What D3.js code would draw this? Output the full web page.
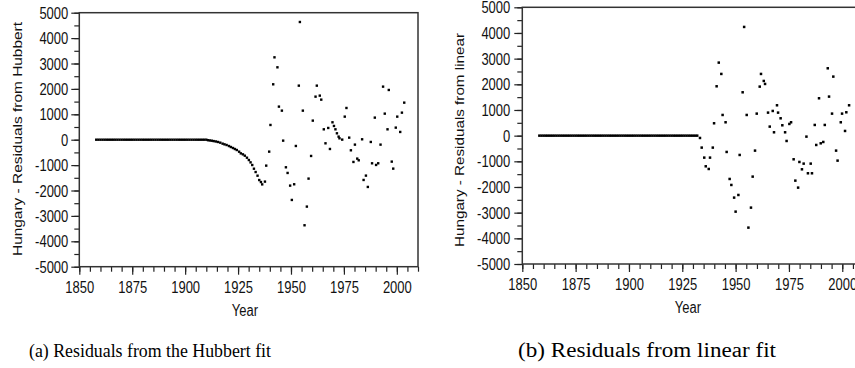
<!DOCTYPE html>
<html>
<head>
<meta charset="utf-8">
<script src="https://cdn.jsdelivr.net/npm/d3@7"></script>
<style>
  html, body { margin: 0; padding: 0; background: #fff; }
  svg { display: block; }
</style>
</head>
<body>
<div id="chart"></div>
<script>
// ---------- data ----------
// years where the residual sits on zero (drawn as a dense row of dots)
const flatYearsHubbert = [1858,1859,1860,1861,1862,1863,1864,1865,1866,1867,1868,1869,1870,1871,1872,1873,1874,1875,
  1876,1877,1878,1879,1880,1881,1882,1883,1884,1885,1886,1887,1888,1889,1890,1891,1892,1893,1894,1895,1896,1897,
  1898,1899,1900,1901,1902,1903,1904,1905,1906,1907,1908,1909,1910];
const flatYearsLinear = [1858,1859,1860,1861,1862,1863,1864,1865,1866,1867,1868,1869,1870,1871,1872,1873,1874,1875,
  1876,1877,1878,1879,1880,1881,1882,1883,1884,1885,1886,1887,1888,1889,1890,1891,1892,1893,1894,1895,1896,1897,
  1898,1899,1900,1901,1902,1903,1904,1905,1906,1907,1908,1909,1910,1911,1912,1913,1914,1915,1916,1917,1918,1919,
  1920,1921,1922,1923,1924,1925,1926,1927,1928,1929,1930,1931,1932];

// [year, residual]
const curveHubbert = [
  [1910.8,-20],[1911.7,-30],[1912.6,-40],[1913.5,-55],[1914.5,-70],[1915.5,-90],
  [1916.6,-117],[1917.7,-156],[1918.6,-183],[1919.6,-209],[1920.7,-249],[1921.6,-288],[1922.6,-327],
  [1923.5,-367],[1924.4,-406],[1925.5,-472],[1926.3,-538],[1927.3,-577],[1928.2,-630],[1929.2,-709],
  [1930.1,-800],[1930.9,-892],[1931.7,-997],[1932.5,-1142],[1933.3,-1273],[1934.2,-1417],[1935.0,-1588],
  [1935.8,-1667],[1936.4,-1759]
];
const scatterHubbert = [
  [1937.7,-1650],[1938.3,-1021],[1939.7,-470],[1940.3,580],[1941.6,2181],[1942.2,3243],[1943.6,2850],
  [1944.3,1302],[1945.7,1144],[1946.3,-37],[1947.6,-1086],[1948.4,-1309],[1949.6,-1808],[1950.4,-2372],
  [1951.5,-1755],[1952.3,-247],[1953.7,2128],[1954.2,4634],[1955.6,1144],[1956.4,-3369],[1957.5,-2634],
  [1958.3,-1532],[1959.5,-640],[1960.3,751],[1961.6,1695],[1962.2,2128],[1963.6,1735],[1964.3,1577],
  [1965.5,409],[1966.3,-142],[1967.6,462],[1968.4,-365],[1969.6,685],[1970.3,541],[1971.0,409],
  [1971.7,252],[1972.5,121],[1972.9,55],[1974.2,3],[1975.4,908],[1976.2,1249],[1977.5,81],[1978.3,-417],
  [1979.5,-876],[1980.2,-194],[1981.3,-745],[1982.0,-811],[1983.6,16],[1984.3,-1585],[1985.4,-1414],
  [1986.3,-1860],[1987.7,-89],[1988.3,-929],[1989.6,869],[1990.2,-994],[1991.2,-929],[1992.3,-194],
  [1993.5,2089],[1994.3,1026],[1995.6,409],[1996.2,1958],[1997.6,-863],[1998.3,-1139],[1999.5,475],
  [2000.2,908],[2001.6,305],[2002.4,1065],[2003.5,1459]
];
const scatterLinear = [
  [1933.3,-90],[1934.1,-466],[1935.3,-856],[1936.0,-1194],[1937.4,-1298],[1938.0,-856],[1939.3,-466],
  [1939.9,482],[1941.1,1923],[1942.1,2845],[1943.3,2404],[1943.9,806],[1945.3,521],[1945.8,-635],
  [1947.2,-1687],[1948.0,-1921],[1949.3,-2414],[1950.0,-2960],[1951.3,-2311],[1951.9,-752],[1953.3,1689],
  [1954.0,4235],[1955.2,806],[1956.0,-3583],[1957.2,-2804],[1958.0,-1596],[1959.1,-583],[1959.9,858],
  [1961.3,1910],[1961.9,2404],[1963.2,2131],[1963.8,2014],[1965.2,897],[1966.0,352],[1967.4,962],
  [1968.0,131],[1969.4,1183],[1969.9,897],[1971.1,676],[1971.9,404],[1973.2,131],[1973.9,-207],
  [1975.2,456],[1976.0,521],[1977.2,-921],[1978.0,-1752],[1979.3,-2025],[1979.9,-1025],[1981.1,-1311],
  [1981.9,-1090],[1983.2,-38],[1983.9,-1466],[1985.2,-1090],[1985.8,-1466],[1987.1,417],[1987.8,-363],
  [1989.1,1456],[1989.9,-298],[1991.1,-246],[1991.8,417],[1993.2,2624],[1993.8,1521],[1995.2,858],
  [1995.8,2300],[1997.1,-583],[1997.8,-973],[1999.3,521],[1999.9,858],[2001.3,183],[2001.9,910],
  [2003.2,1183]
];

const xTicks = [1850, 1875, 1900, 1925, 1950, 1975, 2000];
const yTicks = [-5000, -4000, -3000, -2000, -1000, 0, 1000, 2000, 3000, 4000, 5000];
const xTitle = "Year";
const yTitles = ["Hungary - Residuals from Hubbert", "Hungary - Residuals from linear"];
const captions = ["(a) Residuals from the Hubbert fit", "(b) Residuals from linear fit"];

// ---------- drawing ----------
const W = 855, H = 368;
const SANS = '"Liberation Sans", Arial, sans-serif';
const SERIF = '"Liberation Serif", "Times New Roman", serif';
const plain = d => String(d);   // keep "-" hyphen as in the original

const svg = d3.select("#chart").append("svg")
  .attr("width", W).attr("height", H);

function drawPanel(p){
  const x = d3.scaleLinear().domain([1850, 2010]).range([p.left, p.right]);
  const y = d3.scaleLinear().domain([-5000, 5000]).range([p.bottom, p.top]);
  const g = svg.append("g");

  // minor ticks (every 5 years / 500 units)
  g.append("g")
    .attr("transform", `translate(0,${p.bottom})`)
    .call(d3.axisBottom(x).tickValues(d3.range(1850, 2011, 5)).tickSize(5).tickFormat(""))
    .call(a => a.select(".domain").remove());
  g.append("g")
    .attr("transform", `translate(${p.left},0)`)
    .call(d3.axisLeft(y).tickValues(d3.range(-5000, 5001, 500)).tickSize(5).tickFormat(""))
    .call(a => a.select(".domain").remove());

  // major ticks + labels (text a bit stretched vertically like the original)
  const xa = g.append("g")
    .attr("transform", `translate(0,${p.bottom})`)
    .call(d3.axisBottom(x).tickValues(xTicks).tickSize(8).tickFormat(plain));
  xa.select(".domain").remove();
  xa.selectAll("text")
    .attr("y", null).attr("dy", null)
    .attr("transform", `translate(0,${p.xLabelBase}) scale(1,1.2)`);

  const ya = g.append("g")
    .attr("transform", `translate(${p.left},0)`)
    .call(d3.axisLeft(y).tickValues(yTicks).tickSize(8).tickFormat(plain));
  ya.select(".domain").remove();
  ya.selectAll("text")
    .attr("x", null).attr("dy", "0.36em")
    .attr("transform", `translate(${-p.yLabelGap},0) scale(1,1.2)`);

  g.selectAll(".tick line").attr("stroke", "#222").attr("stroke-width", 1.2);
  g.selectAll(".tick text")
    .attr("fill", "#111")
    .attr("font-family", SANS)
    .attr("font-size", 13);

  // frame
  g.append("rect")
    .attr("x", p.left).attr("y", p.top)
    .attr("width", p.right - p.left).attr("height", p.bottom - p.top)
    .attr("fill", "none").attr("stroke", "#333").attr("stroke-width", 1.5);

  // points
  const pts = p.flat.map(yr => [yr, 0]).concat(p.points);
  const s = p.dot;
  g.append("g").selectAll("rect")
    .data(pts)
    .join("rect")
      .attr("x", d => x(d[0]) - s / 2)
      .attr("y", d => y(d[1]) - s / 2)
      .attr("width", s).attr("height", s)
      .attr("fill", "#000");

  // titles
  g.append("text")
    .attr("x", p.xTitleX).attr("y", p.xTitleY)
    .attr("text-anchor", "middle")
    .attr("font-family", SANS).attr("font-size", 13)
    .attr("transform", `translate(0,${p.xTitleY}) scale(1,1.2) translate(0,${-p.xTitleY})`)
    .attr("fill", "#111")
    .text(xTitle);

  g.append("text")
    .attr("transform", `translate(${p.yTitleX},${p.yTitleY}) rotate(-90)`)
    .attr("text-anchor", "middle")
    .attr("font-family", SANS).attr("font-size", 13)
    .attr("textLength", p.yTitleLen).attr("lengthAdjust", "spacingAndGlyphs")
    .attr("fill", "#111")
    .text(p.yTitle);

  svg.append("text")
    .attr("x", p.capX).attr("y", 357)
    .attr("text-anchor", "middle")
    .attr("font-family", SERIF).attr("font-size", p.capSize)
    .attr("textLength", p.capLen).attr("lengthAdjust", "spacingAndGlyphs")
    .attr("fill", "#000")
    .text(p.caption);
}

drawPanel({
  left: 79.3, right: 418, top: 12.7, bottom: 266.7,
  xLabelBase: 26, yLabelGap: 11,
  flat: flatYearsHubbert, points: curveHubbert.concat(scatterHubbert), dot: 2.4,
  xTitleX: 245, xTitleY: 316,
  yTitle: yTitles[0], yTitleX: 22, yTitleY: 139, yTitleLen: 234,
  caption: captions[0], capX: 150, capSize: 18, capLen: 242
});

drawPanel({
  left: 522.3, right: 863.6, top: 7.3, bottom: 264,
  xLabelBase: 26, yLabelGap: 12,
  flat: flatYearsLinear, points: scatterLinear, dot: 2.5,
  xTitleX: 688, xTitleY: 313,
  yTitle: yTitles[1], yTitleX: 464, yTitleY: 140, yTitleLen: 214,
  caption: captions[1], capX: 647, capSize: 20.5, capLen: 258
});
</script>
</body>
</html>
